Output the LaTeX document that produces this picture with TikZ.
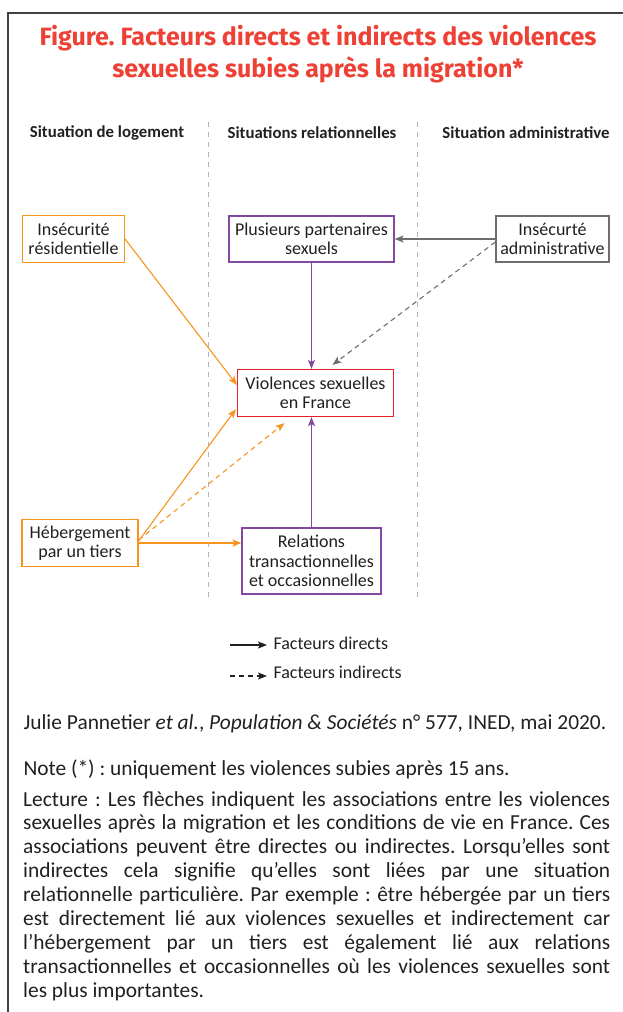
\documentclass[tikz,border=0pt]{standalone}
\usepackage{fontspec}
\setmainfont{Carlito}
\newfontfamily\titlefont{Fira Sans}
\usepackage[dvipsnames,svgnames,x11names]{xcolor}
\definecolor{inedred}{HTML}{EE4136}
\definecolor{inedorange}{HTML}{F7941D}
\definecolor{inedpurple}{HTML}{8348A0}
\definecolor{inedbox}{HTML}{E62229}
\definecolor{inedgray}{HTML}{6D6E71}
\definecolor{inedtext}{HTML}{231F20}
\definecolor{inedsep}{HTML}{B3B3B3}
\usepackage{tikz}
\usetikzlibrary{positioning,arrows.meta}
\frenchspacing
\tolerance=10000
\hyphenpenalty=10000

\begin{document}
\begin{tikzpicture}[x=1pt,y=-1pt,
  factor/.style={draw, line width=1.2pt, align=center, inner sep=0pt, text=inedtext,
    font=\fontsize{18}{19.5}\selectfont},
  direct/.style={line width=1.1pt, -{Stealth[length=9pt,width=7pt,inset=2pt]}},
  indirect/.style={direct, dash pattern=on 5pt off 4pt},
  colhead/.style={text=inedtext, font=\fontsize{16.8}{19}\selectfont\bfseries},
  legtext/.style={anchor=west, text=inedtext, font=\fontsize{18}{20}\selectfont}]
  \useasboundingbox (0,0) rectangle (623,1012);
  \draw[line width=1.3pt, inedtext!85] (8,1012) -- (8,13) -- (623,13);

  \node[text=inedred, align=center, font=\titlefont\fontsize{25}{32}\selectfont\bfseries]
    (title) at (318,54) {Figure. Facteurs directs et indirects des violences\\
      sexuelles subies après la migration*};

  \node[colhead] (hlog) at (107,133) {Situation de logement};
  \node[colhead] (hrel) at (312,133) {Situations relationnelles};
  \node[colhead] (hadm) at (526,133) {Situation administrative};
  \coordinate (septop1) at (208,122);
  \coordinate (sepbot1) at (208,598);
  \coordinate (septop2) at (417,122);
  \coordinate (sepbot2) at (417,598);
  \draw[inedsep, line width=0.9pt, dash pattern=on 5pt off 5pt] (septop1) -- (sepbot1);
  \draw[inedsep, line width=0.9pt, dash pattern=on 5pt off 5pt] (septop2) -- (sepbot2);

  \node[factor, draw=inedorange, minimum width=102pt, minimum height=47pt]
    (resid) at (73.5,239) {Insécurité\\résidentielle};
  \node[factor, draw=inedpurple, minimum width=165pt, minimum height=46pt]
    (partners) at (311.5,239) {Plusieurs partenaires\\sexuels};
  \node[factor, draw=inedgray, minimum width=113pt, minimum height=46pt]
    (admin) at (552.5,239) {Insécurté\\administrative};
  \node[factor, draw=inedbox, minimum width=156pt, minimum height=47pt]
    (violence) at (315.5,393) {Violences sexuelles\\en France};
  \node[factor, draw=inedorange, minimum width=116pt, minimum height=47pt]
    (lodging) at (80,543) {Hébergement\\par un tiers};
  \node[factor, draw=inedpurple, minimum width=139pt, minimum height=66pt]
    (transact) at (311.5,561) {Relations\\transactionnelles\\et occasionnelles};

  \draw[direct, inedorange] (resid.east) -- ([yshift=8pt]violence.west);
  \draw[direct, inedpurple] (partners.south) -- (partners.south |- violence.north);
  \draw[direct, inedgray] (admin.west) -- (partners.east);
  \draw[indirect, inedgray] ([yshift=-3pt]admin.west) -- ([xshift=17pt,yshift=4pt]violence.north);
  \draw[direct, inedorange] (lodging.east) -- (lodging.east -| transact.west);
  \draw[direct, inedorange] ([yshift=2pt]lodging.east) -- ([xshift=-1pt,yshift=8pt]violence.south west);
  \draw[indirect, inedorange] ([yshift=3pt]lodging.east) -- ([xshift=-31pt,yshift=-6pt]violence.south);
  \draw[direct, inedpurple] (transact.north) -- (transact.north |- violence.south);

  \coordinate (legA) at (230,645);
  \coordinate (legB) at (267,645);
  \coordinate (legC) at (230,676);
  \coordinate (legD) at (267,676);
  \draw[direct, inedtext] (legA) -- (legB);
  \draw[indirect, inedtext] (legC) -- (legD);
  \node[legtext] (legdirect) at (270,643) {Facteurs directs};
  \node[legtext] (legindirect) at (270,672) {Facteurs indirects};

  \node[anchor=west, text=inedtext, font=\fontsize{21.4}{24}\selectfont]
    (source) at (20,724) {Julie Pannetier \textit{et al.}, \textit{Population \& Sociétés} n°~577, INED, mai 2020.};
  \node[anchor=west, text=inedtext, font=\fontsize{21.4}{24}\selectfont]
    (note) at (20,769) {Note (*) : uniquement les violences subies après 15 ans.};
  \node[anchor=north west, text=inedtext, text width=587pt, align=justify, inner sep=0pt,
    font=\fontsize{21.4}{23.9}\selectfont]
    (reading) at (23,791) {Lecture : Les flèches indiquent les associations entre les violences\linebreak
      sexuelles après la migration et les conditions de vie en France. Ces\linebreak
      associations peuvent être directes ou indirectes. Lorsqu’elles sont\linebreak
      indirectes cela signifie qu’elles sont liées par une situation\linebreak
      relationnelle particulière. Par exemple : être hébergée par un tiers\linebreak
      est directement lié aux violences sexuelles et indirectement car\linebreak
      l’hébergement par un tiers est également lié aux relations\linebreak
      transactionnelles et occasionnelles où les violences sexuelles sont\linebreak
      les plus importantes.};
\end{tikzpicture}
\end{document}
